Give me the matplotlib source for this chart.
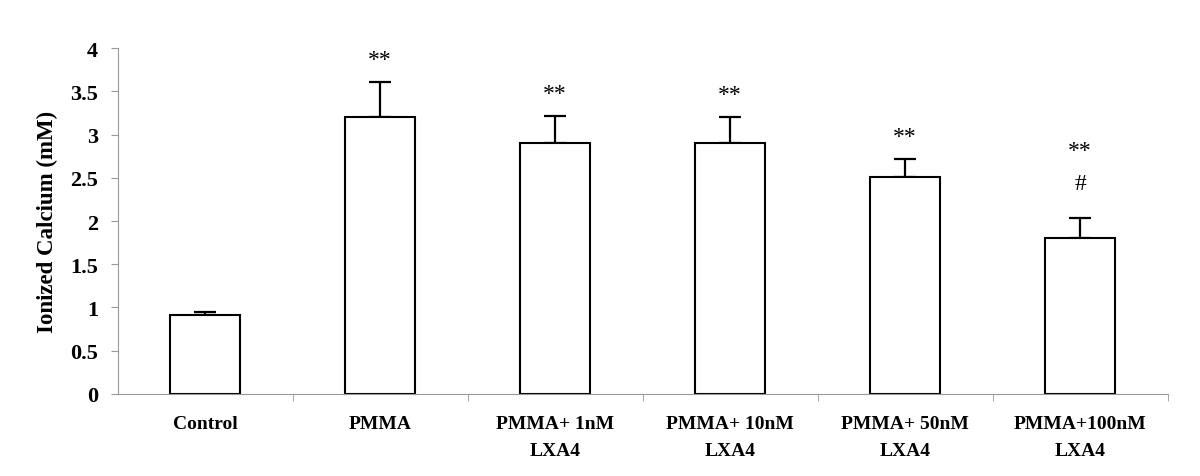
import numpy as np
import matplotlib
matplotlib.use("Agg")
import matplotlib.pyplot as plt

# data
groups = ["Control", "PMMA", "PMMA+ 1nM\nLXA4", "PMMA+ 10nM\nLXA4",
          "PMMA+ 50nM\nLXA4", "PMMA+100nM\nLXA4"]
calcium = [0.91, 3.20, 2.90, 2.90, 2.51, 1.80]
sem = [0.04, 0.41, 0.32, 0.30, 0.21, 0.23]
marks = ["", "**", "**", "**", "**", "**"]
hash_marks = ["", "", "", "", "", "#"]

plt.rcParams["font.family"] = ["Liberation Serif", "DejaVu Serif"]

fig = plt.figure(figsize=(12, 4.77), dpi=100)
ax = fig.add_axes([0.098, 0.172, 0.875, 0.725])

x = np.arange(len(groups))
ax.bar(x, calcium, width=0.4, color="white", edgecolor="black", linewidth=1.5, zorder=2)
ax.errorbar(x, calcium, yerr=[np.zeros(len(sem)), sem], fmt="none",
            ecolor="black", elinewidth=1.6, capsize=8, capthick=1.6, zorder=1)

# significance marks
for i in range(len(groups)):
    top = calcium[i] + sem[i]
    if hash_marks[i]:
        ax.text(x[i], top + 0.40, hash_marks[i], ha="center", va="center", fontsize=17)
        ax.text(x[i], top + 0.79, marks[i], ha="center", va="center", fontsize=17)
    elif marks[i]:
        ax.text(x[i], top + 0.26, marks[i], ha="center", va="center", fontsize=17)

ax.set_xlim(-0.5, len(groups) - 0.5)
ax.set_ylim(0, 4)
ax.set_yticks(np.arange(0, 4.01, 0.5))
ax.set_yticklabels(["0", "0.5", "1", "1.5", "2", "2.5", "3", "3.5", "4"],
                   fontsize=16, fontweight="bold")
ax.set_xticks(x)
ax.set_xticklabels(groups, fontsize=14, fontweight="bold", linespacing=1.8)
ax.set_xticks(np.arange(0.5, len(groups), 1), minor=True)

ax.tick_params(axis="x", which="major", length=0, pad=15)
ax.tick_params(axis="x", which="minor", length=5, color="#999999", direction="out")
ax.tick_params(axis="y", length=5, color="#999999", direction="out", pad=9)

ax.spines["top"].set_visible(False)
ax.spines["right"].set_visible(False)
ax.spines["left"].set_color("#999999")
ax.spines["bottom"].set_color("#999999")

ax.set_ylabel("Ionized Calcium (mM)", fontsize=16.5, fontweight="bold", labelpad=9)

fig.savefig("out.png", dpi=100)
